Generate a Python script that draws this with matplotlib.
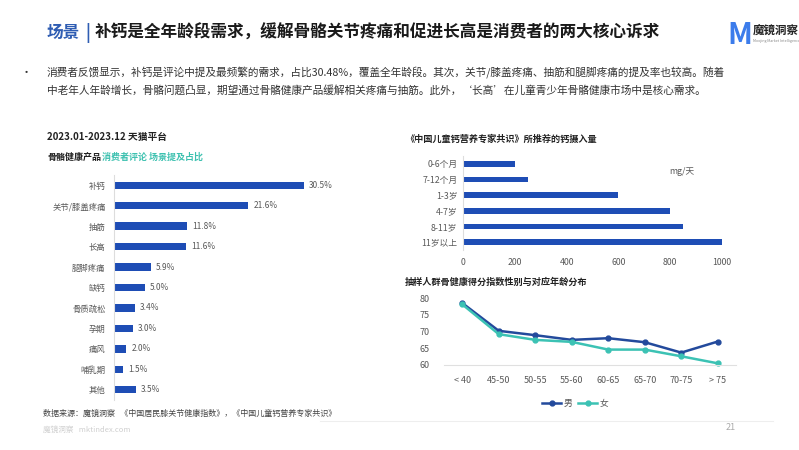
import matplotlib
matplotlib.use('Agg')
import matplotlib.pyplot as plt
import numpy as np

plt.rcParams['font.family'] = ['Noto Sans CJK SC', 'DejaVu Sans']

# left chart: mentions share in reviews
scenes = ['补钙', '关节/膝盖疼痛', '抽筋', '长高', '腿脚疼痛', '缺钙', '骨质疏松', '孕期', '痛风', '哺乳期', '其他']
share = [30.5, 21.6, 11.8, 11.6, 5.9, 5.0, 3.4, 3.0, 2.0, 1.5, 3.5]

# right top: recommended calcium intake (mg/day)
ages = ['0-6个月', '7-12个月', '1-3岁', '4-7岁', '8-11岁', '11岁以上']
intake = [200, 250, 600, 800, 850, 1000]

# right bottom: bone health score by gender / age group
groups = ['< 40', '45-50', '50-55', '55-60', '60-65', '65-70', '70-75', '> 75']
male = [78.5, 70.2, 68.9, 67.5, 68.0, 66.8, 63.7, 67.0]
female = [78.1, 69.2, 67.5, 66.9, 64.6, 64.6, 62.6, 60.5]

W, H = 799, 450
BLUE = '#1E4DB5'
GRAY = '#595959'

fig = plt.figure(figsize=(W / 100, H / 100), dpi=100)


def box(x0, y0, x1, y1):
    # pixel box (top-left origin) -> figure fraction rect
    return [x0 / W, 1 - y1 / H, (x1 - x0) / W, (y1 - y0) / H]


def ftext(x, y, s, **kw):
    fig.text(x / W, 1 - y / H, s, **kw)


# title
ftext(47, 33, '场景', fontsize=12, fontweight='bold', color='#2F5DB3', va='center')
ftext(85, 33, '|', fontsize=12, fontweight='bold', color='#2F5DB3', va='center')
ftext(95, 33, '补钙是全年龄段需求，缓解骨骼关节疼痛和促进长高是消费者的两大核心诉求',
      fontsize=12, fontweight='bold', color='#1a1a1a', va='center')

# logo
ftext(740, 35, 'M', fontsize=21, fontweight='bold', color='#3C7CEB', va='center', ha='center')
ftext(753, 31, '魔镜洞察', fontsize=8.3, fontweight='bold', color='#222222', va='center')
ftext(753, 41, 'Moojing Market Intelligence', fontsize=2.6, color='#888888', va='center')

# bullet text
ftext(21, 73, '•', fontsize=8, color='#333333', va='center')
ftext(47, 73, '消费者反馈显示，补钙是评论中提及最频繁的需求，占比30.48%，覆盖全年龄段。其次，关节/膝盖疼痛、抽筋和腿脚疼痛的提及率也较高。随着',
      fontsize=7.7, color='#333333', va='center')
ftext(47, 90, '中老年人年龄增长，骨骼问题凸显，期望通过骨骼健康产品缓解相关疼痛与抽筋。此外，‘长高’在儿童青少年骨骼健康市场中是核心需求。',
      fontsize=7.7, color='#333333', va='center')

# left headings
ftext(47, 137, '2023.01-2023.12 天猫平台', fontsize=7, fontweight='bold', color='#222222', va='center')
ftext(47, 157, '骨骼健康产品', fontsize=6.5, fontweight='bold', color='#222222', va='center')
ftext(102, 157, '消费者评论 场景提及占比', fontsize=6.5, fontweight='bold', color='#3DC1B0', va='center')

# left bar chart
ax1 = fig.add_axes(box(114, 175, 340, 400))
y1 = np.arange(len(scenes))
ax1.barh(y1, share, height=0.36, color=BLUE)
for yy, v in zip(y1, share):
    ax1.text(v + 0.8, yy, f'{v:.1f}%', va='center', ha='left', fontsize=6, color=GRAY)
ax1.set_yticks(y1)
ax1.set_yticklabels(scenes, fontsize=6, color=GRAY)
ax1.set_ylim(len(scenes) - 0.5, -0.5)
ax1.set_xlim(0, 36.3)
ax1.set_xticks([])
for s in ['top', 'right', 'bottom']:
    ax1.spines[s].set_visible(False)
ax1.spines['left'].set_color('#dddddd')
ax1.tick_params(axis='y', length=0, pad=6)

# source / footer
ftext(43, 413, '数据来源：魔镜洞察   《中国居民膝关节健康指数》，《中国儿童钙营养专家共识》',
      fontsize=5.8, color='#444444', va='center')
ftext(43, 430, '魔镜洞察   mktindex.com', fontsize=5.5, color='#d0d0d0', va='center')
fig.add_artist(plt.Line2D([320 / W, 773 / W], [1 - 421 / H, 1 - 421 / H], color='#eeeeee', lw=0.8))
ftext(731, 428, '21', fontsize=6.5, color='#aaaaaa', va='center', ha='center')

# right top chart
ftext(405, 139, '《中国儿童钙营养专家共识》所推荐的钙摄入量', fontsize=6.6, fontweight='bold',
      color='#222222', va='center')
ax2 = fig.add_axes(box(463, 156, 735, 250))
y2 = np.arange(len(ages))
ax2.barh(y2, intake, height=0.36, color=BLUE)
ax2.set_yticks(y2)
ax2.set_yticklabels(ages, fontsize=6.3, color=GRAY)
ax2.set_ylim(len(ages) - 0.5, -0.5)
ax2.set_xlim(0, 1050)
ax2.set_xticks([0, 200, 400, 600, 800, 1000])
ax2.tick_params(axis='x', length=0, labelsize=6.3, labelcolor=GRAY, pad=6)
ax2.tick_params(axis='y', length=0, pad=4)
for s in ['top', 'right', 'bottom']:
    ax2.spines[s].set_visible(False)
ax2.spines['left'].set_color('#dddddd')
ftext(682, 172, 'mg/天', fontsize=6.3, color=GRAY, va='center', ha='center')

# right bottom chart
ftext(405, 282, '抽样人群骨健康得分指数性别与对应年龄分布', fontsize=6.6, fontweight='bold',
      color='#222222', va='center')
ax3 = fig.add_axes(box(444, 298, 736, 365))
x3 = np.arange(len(groups))
ax3.plot(x3, male, color='#234A9C', lw=1.8, marker='o', ms=3.5, label='男', clip_on=False)
ax3.plot(x3, female, color='#3CC2B4', lw=1.8, marker='o', ms=3.5, label='女', clip_on=False)
ax3.set_xlim(-0.5, len(groups) - 0.5)
ax3.set_ylim(60, 80)
ax3.set_yticks([60, 65, 70, 75, 80])
ax3.set_xticks(x3)
ax3.set_xticklabels(groups)
ax3.tick_params(axis='both', length=0, labelsize=6.5, labelcolor=GRAY)
ax3.tick_params(axis='x', pad=8)
ax3.tick_params(axis='y', pad=10)
for s in ['top', 'right', 'left']:
    ax3.spines[s].set_visible(False)
ax3.spines['bottom'].set_color('#e0e0e0')
ax3.legend(loc='center', bbox_to_anchor=(0.45, -0.58), ncol=2, frameon=False, fontsize=6.3,
           handlelength=2.2, columnspacing=0.6, handletextpad=0.3, labelcolor=GRAY)

fig.savefig('out.png', dpi=100)
